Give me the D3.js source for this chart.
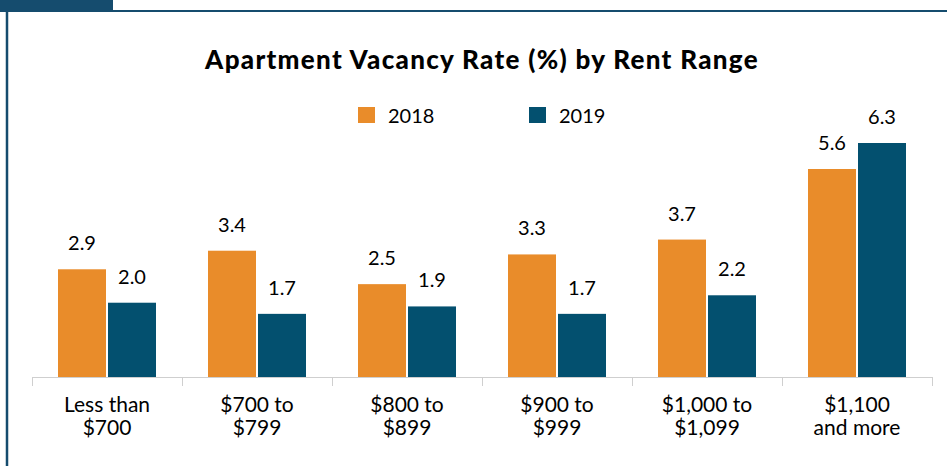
<!DOCTYPE html>
<html>
<head>
<meta charset="utf-8">
<script src="https://cdn.jsdelivr.net/npm/d3@7"></script>
<style>
  body { margin: 0; background: #fff; }
  svg { display: block; font-family: Lato, "Open Sans", sans-serif; }
</style>
</head>
<body>
<script>
// data
var categories = [["Less than", "$700"], ["$700 to", "$799"], ["$800 to", "$899"],
                  ["$900 to", "$999"], ["$1,000 to", "$1,099"], ["$1,100", "and more"]];
var years = ["2018", "2019"];
var values2018 = [2.9, 3.4, 2.5, 3.3, 3.7, 5.6];
var values2019 = [2.0, 1.7, 1.9, 1.7, 2.2, 6.3];

var W = 947, H = 466;
var colors = {"2018": "#e98c2a", "2019": "#03506f"};
var frame = "#154c6e";

var svg = d3.select("body").append("svg")
            .attr("width", W)
            .attr("height", H);

// frame + tab
svg.append("rect").attr("x", 0).attr("y", 0).attr("width", 113).attr("height", 12).attr("fill", frame);
svg.append("line").attr("x1", 0).attr("x2", W).attr("y1", 11).attr("y2", 11)
   .attr("stroke", frame).attr("stroke-width", 2);
svg.append("line").attr("x1", 7).attr("x2", 7).attr("y1", 11).attr("y2", H)
   .attr("stroke", frame).attr("stroke-width", 2.5);

// title
svg.append("text")
   .attr("x", 482).attr("y", 69)
   .attr("text-anchor", "middle")
   .style("font-size", "26px")
   .style("font-weight", "900")
   .style("letter-spacing", "1.3px")
   .text("Apartment Vacancy Rate (%) by Rent Range");

// legend
var legend = svg.selectAll("g.legendEntry")
    .data(years)
    .enter()
    .append("g").attr("class", "legendEntry")
    .attr("transform", function(d, i) { return "translate(" + (358 + i * 171) + ",107)"; });
legend.append("rect").attr("width", 17).attr("height", 16)
      .attr("fill", function(d) { return colors[d]; });
legend.append("text").attr("x", 30).attr("y", 16)
      .style("font-size", "20px")
      .text(function(d) { return d; });

// scales
var baseY = 377;
var x0 = d3.scaleBand()
           .domain(d3.range(categories.length))
           .range([32, 932]);
var x1 = d3.scaleBand()
           .domain(years)
           .range([26, 124])
           .paddingInner(0.04);
var y = d3.scaleLinear()
          .domain([0, 6.3])
          .range([baseY, 143]);

var rows = categories.map(function(c, i) {
    return {i: i, vals: [{year: "2018", v: values2018[i]}, {year: "2019", v: values2019[i]}]};
});

var groups = svg.selectAll("g.grp")
    .data(rows)
    .enter()
    .append("g").attr("class", "grp")
    .attr("transform", function(d) { return "translate(" + x0(d.i) + ",0)"; });

groups.selectAll("rect")
    .data(function(d) { return d.vals; })
    .enter()
    .append("rect")
    .attr("x", function(d) { return x1(d.year); })
    .attr("y", function(d) { return y(d.v); })
    .attr("width", x1.bandwidth())
    .attr("height", function(d) { return baseY - y(d.v); })
    .attr("fill", function(d) { return colors[d.year]; });

groups.selectAll("text.val")
    .data(function(d) { return d.vals; })
    .enter()
    .append("text").attr("class", "val")
    .attr("x", function(d) { return x1(d.year) + x1.bandwidth() / 2; })
    .attr("y", function(d) { return y(d.v) - 19; })
    .attr("text-anchor", "middle")
    .style("font-size", "20px")
    .text(function(d) { return d3.format(".1f")(d.v); });

// axis
var axis = svg.append("g").attr("class", "axis");
axis.append("line").attr("x1", 32).attr("x2", 932).attr("y1", baseY + 0.5).attr("y2", baseY + 0.5)
    .attr("stroke", "#cfcfcf");
axis.selectAll("line.tick")
    .data(d3.range(categories.length + 1))
    .enter()
    .append("line").attr("class", "tick")
    .attr("x1", function(d) { return Math.round(32 + d * x0.step()) + 0.5; })
    .attr("x2", function(d) { return Math.round(32 + d * x0.step()) + 0.5; })
    .attr("y1", baseY).attr("y2", baseY + 9)
    .attr("stroke", "#cfcfcf");

var lbl = axis.selectAll("text")
    .data(categories)
    .enter()
    .append("text")
    .attr("text-anchor", "middle")
    .attr("transform", function(d, i) { return "translate(" + (x0(i) + x0.bandwidth() / 2) + ",412)"; })
    .style("font-size", "21px");
lbl.selectAll("tspan")
    .data(function(d) { return d; })
    .enter()
    .append("tspan")
    .attr("x", 0)
    .attr("y", function(d, i) { return i * 23; })
    .text(function(d) { return d; });
</script>
</body>
</html>
